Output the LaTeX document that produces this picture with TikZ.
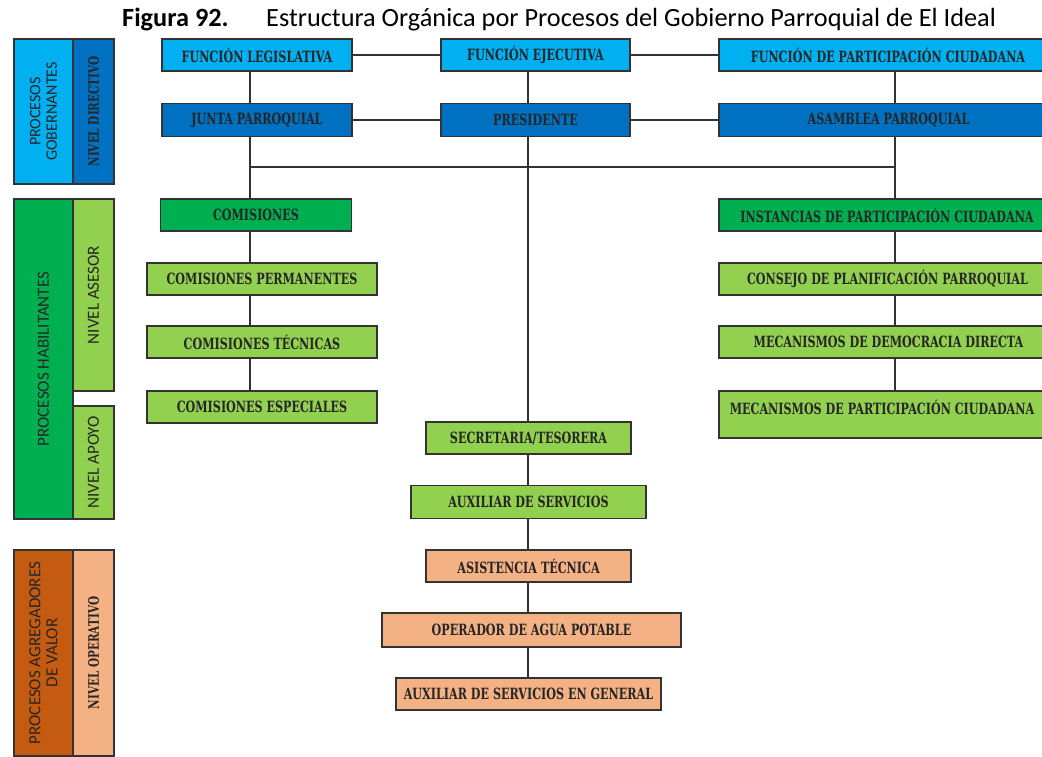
\documentclass[tikz,border=0pt]{standalone}
\usepackage{fontspec}
\setmainfont{Carlito}
\newfontfamily\cajafont[FakeStretch=0.72]{DejaVu Serif}
\newfontfamily\bandafont{Carlito}
\usetikzlibrary{backgrounds}
\definecolor{azulc}{HTML}{00B0F0}
\definecolor{azulo}{HTML}{0070C0}
\definecolor{verdeo}{HTML}{00B050}
\definecolor{verdec}{HTML}{92D050}
\definecolor{naranjao}{HTML}{C55A11}
\definecolor{naranjac}{HTML}{F4B183}
\definecolor{linea}{HTML}{333333}
\definecolor{texto}{HTML}{262626}
\newcommand{\corre}[1]{\hspace{#1}\mbox{}}
\tikzset{
  caja/.style={draw=linea,line width=1.2pt,inner sep=0pt,minimum height=32pt,
    text=texto,font=\cajafont\bfseries\fontsize{15.5}{17}\selectfont},
  banda/.style={draw=linea,line width=1.2pt,inner sep=0pt,rotate=90,
    text=texto,align=center,font=\bandafont\fontsize{17}{17}\selectfont},
  nivel/.style={banda,font=\cajafont\bfseries\fontsize{14.5}{16}\selectfont},
  conector/.style={draw=linea,line width=1.2pt}
}
\begin{document}
\begin{tikzpicture}[x=1pt,y=-1pt]
	\useasboundingbox(0,0)rectangle(1042,756);
	% titulo
	\node[anchor=base west,inner sep=0pt,font=\fontsize{26.3}{28}\selectfont](fig)at(122,26){\textbf{Figura 92.}};
	\node[anchor=base west,inner sep=0pt,font=\fontsize{26.3}{28}\selectfont](tit)at(266,26){Estructura Orgánica por Procesos del Gobierno Parroquial de El Ideal};
	% bandas
	\node[banda,fill=azulc,minimum width=145pt,minimum height=59pt,font=\bandafont\fontsize{16}{16.5}\selectfont](pgob)at(43.5,111.5){PROCESOS\\GOBERNANTES};
	\node[nivel,fill=azulo,minimum width=145pt,minimum height=41pt](ndir)at(93.5,111.5){NIVEL DIRECTIVO};
	\node[banda,fill=verdeo,minimum width=320pt,minimum height=59pt](phab)at(43.5,359){PROCESOS HABILITANTES};
	\node[banda,fill=verdec,minimum width=192pt,minimum height=41pt](nase)at(93.5,295){NIVEL ASESOR};
	\node[banda,fill=verdec,minimum width=113pt,minimum height=41pt](napo)at(93.5,462.5){NIVEL APOYO};
	\node[banda,fill=naranjao,minimum width=206pt,minimum height=59pt](pagr)at(43.5,653){PROCESOS AGREGADORES\\DE VALOR};
	\node[nivel,fill=naranjac,minimum width=206pt,minimum height=41pt](nope)at(93.5,653){NIVEL OPERATIVO};
	% funciones
	\node[caja,fill=azulc,minimum width=190pt](fleg)at(257,55){FUNCIÓN LEGISLATIVA};
	\node[caja,fill=azulc,minimum width=189pt](feje)at(535.5,55){FUNCIÓN EJECUTIVA};
	\node[caja,fill=azulc,minimum width=352pt](fpar)at(895,55){FUNCIÓN DE PARTICIPACIÓN CIUDADANA\corre{14pt}};
	\node[caja,fill=azulo,minimum width=190pt,minimum height=33pt](junta)at(257,120){JUNTA PARROQUIAL};
	\node[caja,fill=azulo,minimum width=189pt,minimum height=33pt](pres)at(535.5,120){PRESIDENTE};
	\node[caja,fill=azulo,minimum width=352pt,minimum height=33pt](asam)at(895,120){ASAMBLEA PARROQUIAL\corre{13pt}};
	% asesor
	\node[caja,fill=verdeo,minimum width=191pt](comi)at(256,215){COMISIONES};
	\node[caja,fill=verdec,minimum width=230pt](cper)at(262,279){COMISIONES PERMANENTES};
	\node[caja,fill=verdec,minimum width=230pt](ctec)at(262,342){COMISIONES TÉCNICAS};
	\node[caja,fill=verdec,minimum width=230pt](cesp)at(262,407){COMISIONES ESPECIALES};
	\node[caja,fill=verdeo,minimum width=352pt](inst)at(895,215){INSTANCIAS DE PARTICIPACIÓN CIUDADANA\corre{16pt}};
	\node[caja,fill=verdec,minimum width=352pt](cons)at(895,279){CONSEJO DE PLANIFICACIÓN PARROQUIAL\corre{15pt}};
	\node[caja,fill=verdec,minimum width=352pt](mdd)at(895,342){MECANISMOS DE DEMOCRACIA DIRECTA\corre{13pt}};
	\node[caja,fill=verdec,minimum width=352pt,minimum height=0pt,text height=23pt,text depth=24pt](mpc)at(895,414.5){MECANISMOS DE PARTICIPACIÓN CIUDADANA\corre{26pt}};
	% apoyo y operativo
	\node[caja,fill=verdec,minimum width=205pt](secr)at(528.5,438){SECRETARIA/TESORERA};
	\node[caja,fill=verdec,minimum width=235pt,minimum height=33pt](auxs)at(528.5,502){AUXILIAR DE SERVICIOS};
	\node[caja,fill=naranjac,minimum width=205pt](asis)at(528.5,566){ASISTENCIA TÉCNICA};
	\node[caja,fill=naranjac,minimum width=299pt,minimum height=34pt](oper)at(531.5,630){OPERADOR DE AGUA POTABLE};
	\node[caja,fill=naranjac,minimum width=265pt](auxg)at(528.5,694){AUXILIAR DE SERVICIOS EN GENERAL};
	\coordinate(colL)at(250,0);
	\coordinate(colC)at(528,0);
	\coordinate(ramaL)at(250,167);
	\coordinate(ramaR)at(895,167);
	\begin{scope}[on background layer]
		\draw[conector](fleg.east)--(feje.west)(feje.east)--(fpar.west);
		\draw[conector](junta.east)--(pres.west)(pres.east)--(asam.west);
		\draw[conector](fleg.south-|colL)--(cesp.north-|colL);
		\draw[conector](feje.south-|colC)--(auxg.north-|colC);
		\draw[conector](fpar.south)--(mpc.north);
		\draw[conector](ramaL)--(ramaR);
	\end{scope}
\end{tikzpicture}
\end{document}
